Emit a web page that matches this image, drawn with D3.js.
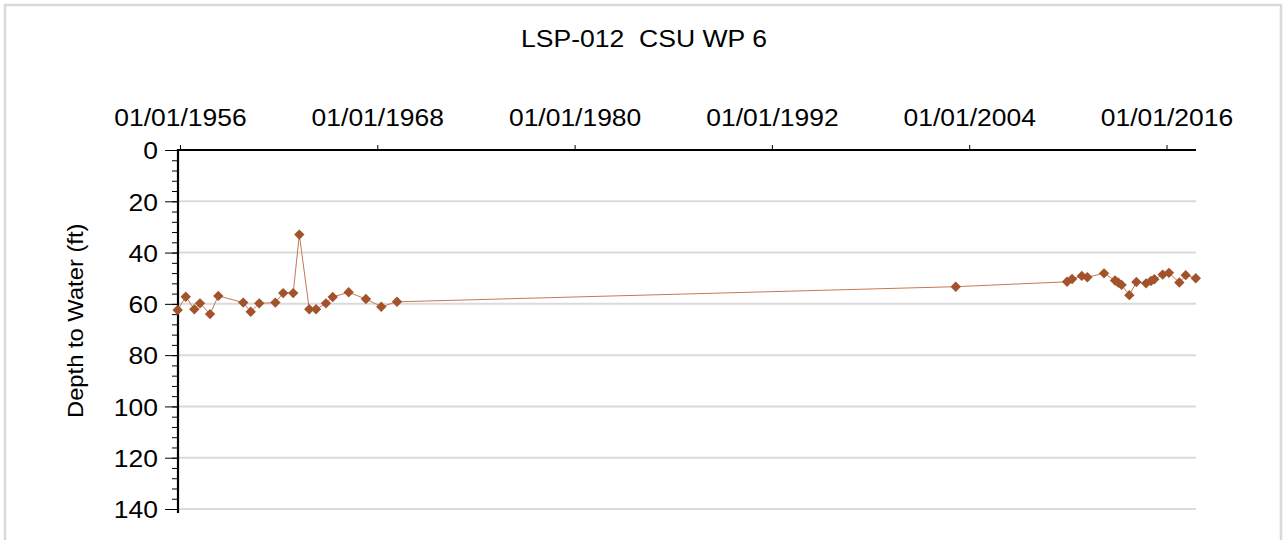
<!DOCTYPE html>
<html>
<head>
<meta charset="utf-8">
<script src="https://cdn.jsdelivr.net/npm/d3@7"></script>
<style>
  html, body { margin: 0; padding: 0; background: #fff; }
  svg { display: block; font-family: "Liberation Sans", Arial, sans-serif; }
</style>
</head>
<body>
<svg id="chart" width="1283" height="540"></svg>
<script>
const titleText = "LSP-012  CSU WP 6";
const yAxisTitle = "Depth to Water (ft)";

const dates = [
  "1955-11-10","1956-05-08","1956-11-15","1957-03-20","1957-10-30","1958-05-01",
  "1959-11-06","1960-04-20","1960-10-27","1961-10-20","1962-04-12","1962-11-20",
  "1963-04-05","1963-11-12","1964-04-10","1964-11-17","1965-04-16","1966-04-05",
  "1967-04-23","1968-03-30","1969-03-14","2003-03-08","2009-12-14","2010-04-05",
  "2010-11-06","2011-03-10","2012-03-14","2012-11-13","2013-01-22","2013-04-08",
  "2013-09-27","2014-03-03","2014-10-04","2015-01-20","2015-04-05","2015-10-08",
  "2016-02-24","2016-10-12","2017-03-02","2017-10-12"
];
const depths = [
  62.4, 57.2, 62.1, 59.8, 64.0, 56.9,
  59.5, 63.1, 59.8, 59.5, 55.8, 55.8,
  33.0, 62.1, 62.1, 59.8, 57.3, 55.5,
  58.1, 61.1, 59.2, 53.3, 51.4, 50.3,
  49.1, 49.6, 48.1, 50.9, 51.7, 52.6,
  56.6, 51.5, 52.0, 51.1, 50.4, 48.6,
  47.9, 51.7, 48.8, 50.0
];
const xTickDates = ["1956-01-01","1968-01-01","1980-01-01","1992-01-01","2004-01-01","2016-01-01"];
const yTickValues = [0, 20, 40, 60, 80, 100, 120, 140];
const yMinorTickValues = d3.range(0, 141, 4);

const parse = d3.timeParse("%Y-%m-%d");
const fmt = d3.timeFormat("%m/%d/%Y");
const data = dates.map((d, i) => ({ date: parse(d), depth: depths[i] }));

const svg = d3.select("#chart");

// outer frame
svg.append("rect")
  .attr("x", 5).attr("y", 5).attr("width", 1276).attr("height", 545)
  .attr("fill", "#fff").attr("stroke", "#d9d9d9").attr("stroke-width", 2.5);

const x = d3.scaleTime()
  .domain([parse("1955-11-18"), parse("2017-10-17")])
  .range([178, 1196]);
const y = d3.scaleLinear().domain([0, 140]).range([150, 509]);

// gridlines
svg.append("g").selectAll("line")
  .data(yTickValues.filter(v => v > 0))
  .join("line")
  .attr("x1", x.range()[0]).attr("x2", x.range()[1])
  .attr("y1", d => y(d)).attr("y2", d => y(d))
  .attr("stroke", "#dadada").attr("stroke-width", 2);

// title
svg.append("g")
  .attr("transform", "translate(644,46.7) scale(1.13,1)")
  .append("text")
  .attr("text-anchor", "middle")
  .attr("font-size", 23.5)
  .attr("fill", "#000")
  .style("white-space", "pre")
  .attr("xml:space", "preserve")
  .text(titleText);

// y axis title
svg.append("g")
  .attr("transform", "translate(82.5,320.8) rotate(-90) scale(1.08,1)")
  .append("text")
  .attr("text-anchor", "middle")
  .attr("font-size", 22)
  .attr("fill", "#000")
  .text(yAxisTitle);

// x axis (top)
const xAxis = d3.axisTop(x)
  .tickValues(xTickDates.map(parse))
  .tickFormat(fmt)
  .tickSize(5)
  .tickSizeOuter(0)
  .tickPadding(19);
const gx = svg.append("g").attr("transform", `translate(0,${y(0)})`).call(xAxis);
gx.select(".domain").remove();
gx.selectAll(".tick line").attr("stroke", "#000").attr("stroke-width", 1);
gx.selectAll(".tick text")
  .attr("font-size", 24.5)
  .attr("font-family", "Liberation Sans, Arial, sans-serif")
  .attr("fill", "#000")
  .attr("transform", "scale(1.08,1)");

// y axis minor ticks
const yMinor = d3.axisLeft(y).tickValues(yMinorTickValues).tickSize(6).tickFormat("");
const gym = svg.append("g").attr("transform", `translate(${x.range()[0]},0)`).call(yMinor);
gym.select(".domain").remove();
gym.selectAll(".tick line").attr("stroke", "#000").attr("stroke-width", 1);

// y axis major ticks
const yAxis = d3.axisLeft(y).tickValues(yTickValues).tickSize(13).tickPadding(7).tickSizeOuter(0);
const gy = svg.append("g").attr("transform", `translate(${x.range()[0]},0)`).call(yAxis);
gy.select(".domain").remove();
gy.selectAll(".tick line").attr("stroke", "#000").attr("stroke-width", 1);
gy.selectAll(".tick text")
  .attr("font-size", 24.5)
  .attr("font-family", "Liberation Sans, Arial, sans-serif")
  .attr("fill", "#000")
  .attr("dy", "0.36em")
  .attr("x", -20 / 1.08)
  .attr("transform", "scale(1.08,1)");

// axis lines
svg.append("line")
  .attr("x1", x.range()[0]).attr("x2", x.range()[0])
  .attr("y1", y(0) - 1).attr("y2", y(140) + 4)
  .attr("stroke", "#000").attr("stroke-width", 2.2);
svg.append("line")
  .attr("x1", x.range()[0] - 1).attr("x2", x.range()[1])
  .attr("y1", y(0)).attr("y2", y(0))
  .attr("stroke", "#000").attr("stroke-width", 2.2);

// data line
const line = d3.line().x(d => x(d.date)).y(d => y(d.depth));
svg.append("path")
  .datum(data)
  .attr("d", line)
  .attr("fill", "none")
  .attr("stroke", "#c27a52")
  .attr("stroke-width", 1);

// markers
const diamond = "M0,-5.2L5.2,0L0,5.2L-5.2,0Z";
svg.append("g").selectAll("path")
  .data(data)
  .join("path")
  .attr("transform", d => `translate(${x(d.date)},${y(d.depth)})`)
  .attr("d", diamond)
  .attr("fill", "#a3532c");
</script>
</body>
</html>
